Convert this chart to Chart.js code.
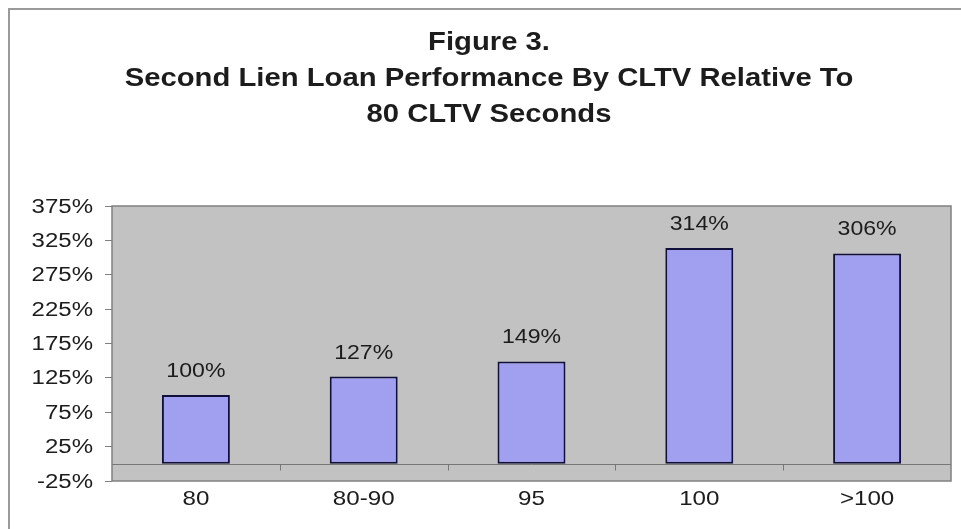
<!DOCTYPE html>
<html>
<head>
<meta charset="utf-8">
<script src="https://cdn.jsdelivr.net/npm/chart.js@4/dist/chart.umd.min.js"></script>
<style>
  html, body { margin: 0; padding: 0; background: #ffffff; }
  #wrap { width: 961px; height: 529px; position: relative; }
</style>
</head>
<body>
<div id="wrap"><canvas id="c" width="961" height="529"></canvas></div>
<script>
// CLTV buckets and performance relative to the 80 CLTV seconds baseline (%)
const categories = ['80', '80-90', '95', '100', '>100'];
const relativePerformance = [100, 127, 149, 314, 306];
const yTickValues = [-25, 25, 75, 125, 175, 225, 275, 325, 375];
const titleLines = ['Figure 3.', 'Second Lien Loan Performance By CLTV Relative To', '80 CLTV Seconds'];

const FONT = '"Liberation Sans", Arial, sans-serif';
const TEXT = '#1c1c1c';

// Text in this figure is set in a wide Arial; draw it with a horizontal stretch.
function wideText(ctx, str, x, y, sx, font, align, baseline) {
  ctx.save();
  ctx.font = font;
  ctx.fillStyle = TEXT;
  ctx.textAlign = align;
  ctx.textBaseline = baseline;
  ctx.translate(x, y);
  ctx.scale(sx, 1);
  ctx.fillText(str, 0, 0);
  ctx.restore();
}

const figurePlugin = {
  id: 'figure',
  beforeDraw(chart) {
    const ctx = chart.ctx;
    const a = chart.chartArea;
    ctx.save();
    ctx.fillStyle = '#ffffff';
    ctx.fillRect(0, 0, chart.width, chart.height);
    // frame along the top and left edges
    ctx.strokeStyle = '#9a9a9a';
    ctx.lineWidth = 2;
    ctx.beginPath();
    ctx.moveTo(9, chart.height);
    ctx.lineTo(9, 9);
    ctx.lineTo(chart.width, 9);
    ctx.stroke();
    // grey plot background
    ctx.fillStyle = '#c2c2c2';
    ctx.fillRect(a.left, a.top, a.right - a.left, a.bottom - a.top);
    ctx.restore();

    // title
    const cx = 489;
    const baselines = [50, 86, 122];
    titleLines.forEach((line, i) => {
      wideText(ctx, line, cx, baselines[i], 1.17, 'bold 25px ' + FONT, 'center', 'alphabetic');
    });
  },
  beforeDatasetsDraw(chart) {
    // zero line with category separators
    const ctx = chart.ctx;
    const a = chart.chartArea;
    const x = chart.scales.x;
    const y0 = Math.round(chart.scales.y.getPixelForValue(0)) + 0.5;
    ctx.save();
    ctx.strokeStyle = '#777777';
    ctx.lineWidth = 1;
    ctx.beginPath();
    ctx.moveTo(a.left, y0);
    ctx.lineTo(a.right, y0);
    for (let i = 1; i < categories.length; i++) {
      const xb = Math.round((x.getPixelForValue(i - 1) + x.getPixelForValue(i)) / 2) + 0.5;
      ctx.moveTo(xb, y0);
      ctx.lineTo(xb, y0 + 6);
    }
    ctx.stroke();
    ctx.restore();
  },
  afterDatasetsDraw(chart) {
    const ctx = chart.ctx;
    const a = chart.chartArea;
    const xs = chart.scales.x;
    const ys = chart.scales.y;
    ctx.save();
    // plot area border
    ctx.strokeStyle = '#808080';
    ctx.lineWidth = 1.5;
    ctx.strokeRect(a.left, a.top, a.right - a.left, a.bottom - a.top);
    ctx.restore();

    // y tick labels
    yTickValues.forEach(v => {
      wideText(ctx, v + '%', a.left - 19, ys.getPixelForValue(v) + 1, 1.2, '20px ' + FONT, 'right', 'middle');
    });
    // category labels
    categories.forEach((c, i) => {
      wideText(ctx, c, xs.getPixelForValue(i), a.bottom + 24, 1.15, '21px ' + FONT, 'center', 'alphabetic');
    });
    // value labels above bars
    const meta = chart.getDatasetMeta(0);
    meta.data.forEach((bar, i) => {
      wideText(ctx, relativePerformance[i] + '%', bar.x, bar.y - 18, 1.1, '21px ' + FONT, 'center', 'alphabetic');
    });
  }
};

new Chart(document.getElementById('c'), {
  type: 'bar',
  data: {
    labels: categories,
    datasets: [{
      data: relativePerformance,
      backgroundColor: '#a09ff0',
      borderColor: '#10103a',
      borderWidth: 2,
      borderSkipped: false,
      categoryPercentage: 1,
      barPercentage: 0.405
    }]
  },
  options: {
    responsive: false,
    animation: false,
    events: [],
    layout: { padding: { left: 0, right: 10, top: 206, bottom: 0 } },
    plugins: {
      legend: { display: false },
      tooltip: { enabled: false },
      title: { display: false }
    },
    scales: {
      x: {
        grid: { display: false, drawTicks: false },
        border: { display: false },
        ticks: { color: 'rgba(0,0,0,0)', font: { family: FONT, size: 20 }, padding: 5 },
        afterFit(scale) { scale.height = 48; }
      },
      y: {
        min: -25,
        max: 375,
        afterBuildTicks(scale) { scale.ticks = yTickValues.map(v => ({ value: v })); },
        grid: { display: true, drawOnChartArea: false, drawTicks: true, tickLength: 7, color: '#808080' },
        border: { display: false },
        ticks: { color: 'rgba(0,0,0,0)', font: { family: FONT, size: 20 }, padding: 12 },
        afterFit(scale) { scale.width = 112; }
      }
    }
  },
  plugins: [figurePlugin]
});
</script>
</body>
</html>
